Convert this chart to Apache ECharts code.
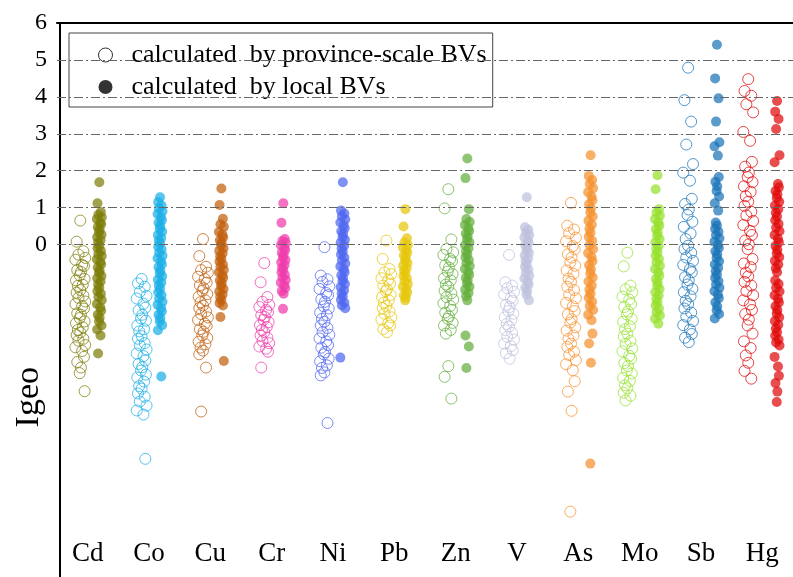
<!DOCTYPE html>
<html>
<head>
<meta charset="utf-8">
<script src="https://cdn.jsdelivr.net/npm/echarts@6/dist/echarts.min.js"></script>
<style>
    html, body { margin: 0; padding: 0; background: #fff; }
    #chartIgeo { width: 793px; height: 577px; }
</style>
</head>
<body>
<div id="chartIgeo"></div>
<script>
    // element names (x categories)
    const elements = ['Cd', 'Co', 'Cu', 'Cr', 'Ni', 'Pb', 'Zn', 'V', 'As', 'Mo', 'Sb', 'Hg'];
    const yTicks = [0, 1, 2, 3, 4, 5, 6];
    const gridLevels = [0, 1, 2, 3, 4, 5];

    // Igeo, calculated by province-scale BVs (open circles)
    const cdProvince = [0.65, 0.08, -0.18, -0.27, -0.36, -0.41, -0.55, -0.58, -0.69, -0.74, -0.83, -0.93, -0.97, -1.09, -1.12, -1.23, -1.3, -1.38, -1.44, -1.54, -1.61, -1.67, -1.73, -1.86, -1.9, -1.99, -2.08, -2.13, -2.24, -2.31, -2.38, -2.45, -2.55, -2.6, -2.72, -2.78, -2.88, -3.04, -3.18, -3.33, -3.48, -3.97];
    const coProvince = [-0.93, -1.05, -1.14, -1.28, -1.39, -1.46, -1.6, -1.71, -1.78, -1.9, -2.0, -2.06, -2.19, -2.29, -2.35, -2.48, -2.55, -2.67, -2.73, -2.84, -2.95, -3.02, -3.14, -3.23, -3.32, -3.41, -3.52, -3.6, -3.71, -3.83, -3.9, -4.03, -4.12, -4.25, -4.36, -4.49, -4.6, -5.8];
    const cuProvince = [0.15, -0.31, -0.6, -0.69, -0.76, -0.87, -0.93, -1.03, -1.1, -1.18, -1.25, -1.34, -1.41, -1.51, -1.56, -1.65, -1.72, -1.81, -1.88, -1.97, -2.04, -2.14, -2.2, -2.29, -2.36, -2.46, -2.53, -2.63, -2.7, -2.79, -2.87, -2.97, -3.33, -4.52];
    const crProvince = [-0.5, -1.02, -1.42, -1.55, -1.63, -1.69, -1.77, -1.83, -1.91, -1.96, -2.04, -2.1, -2.18, -2.23, -2.31, -2.37, -2.46, -2.52, -2.61, -2.67, -2.76, -2.82, -2.9, -3.33];
    const niProvince = [-0.07, -0.84, -0.94, -1.01, -1.13, -1.2, -1.31, -1.37, -1.48, -1.55, -1.67, -1.73, -1.84, -1.91, -2.01, -2.09, -2.19, -2.26, -2.37, -2.44, -2.54, -2.62, -2.72, -2.79, -2.91, -2.97, -3.09, -3.16, -3.27, -3.34, -3.46, -3.54, -4.83];
    const pbProvince = [0.11, -0.39, -0.66, -0.75, -0.8, -0.91, -0.96, -1.06, -1.11, -1.21, -1.26, -1.36, -1.42, -1.51, -1.57, -1.66, -1.72, -1.81, -1.87, -1.97, -2.03, -2.13, -2.19, -2.29, -2.37];
    const znProvince = [1.5, 0.98, 0.14, -0.12, -0.21, -0.28, -0.39, -0.45, -0.56, -0.62, -0.73, -0.8, -0.91, -0.97, -1.08, -1.14, -1.25, -1.32, -1.42, -1.49, -1.59, -1.66, -1.77, -1.84, -1.94, -2.01, -2.12, -2.19, -2.31, -2.41, -3.29, -3.58, -4.17];
    const vProvince = [-0.28, -1.02, -1.11, -1.18, -1.28, -1.35, -1.45, -1.52, -1.63, -1.69, -1.8, -1.87, -1.97, -2.04, -2.15, -2.22, -2.32, -2.39, -2.5, -2.57, -2.68, -2.75, -2.86, -2.94, -3.09];
    const asProvince = [1.13, 0.51, 0.41, 0.31, 0.19, 0.09, -0.04, -0.13, -0.26, -0.35, -0.48, -0.57, -0.7, -0.79, -0.92, -1.01, -1.14, -1.23, -1.36, -1.45, -1.58, -1.67, -1.8, -1.89, -2.02, -2.11, -2.24, -2.33, -2.46, -2.55, -2.68, -2.77, -2.9, -2.99, -3.13, -3.24, -3.4, -3.7, -3.98, -4.5, -7.23];
    const moProvince = [-0.22, -0.59, -1.11, -1.21, -1.29, -1.41, -1.49, -1.61, -1.69, -1.81, -1.89, -2.01, -2.09, -2.21, -2.29, -2.41, -2.49, -2.61, -2.69, -2.81, -2.89, -3.01, -3.09, -3.21, -3.29, -3.41, -3.49, -3.61, -3.69, -3.81, -3.89, -4.01, -4.09, -4.22];
    const sbProvince = [4.79, 3.91, 3.33, 2.71, 2.18, 1.95, 1.73, 1.24, 1.1, 0.95, 0.8, 0.62, 0.48, 0.3, 0.15, -0.03, -0.12, -0.22, -0.35, -0.44, -0.55, -0.66, -0.75, -0.88, -0.97, -1.08, -1.2, -1.29, -1.4, -1.52, -1.61, -1.73, -1.84, -1.95, -2.07, -2.18, -2.3, -2.42, -2.52, -2.64];
    const hgProvince = [4.48, 4.16, 4.03, 3.8, 3.58, 3.05, 2.81, 2.24, 2.11, 1.95, 1.83, 1.69, 1.58, 1.43, 1.31, 1.16, 1.05, 0.89, 0.79, 0.64, 0.53, 0.37, 0.26, 0.11, 0.01, -0.12, -0.39, -0.51, -0.61, -0.76, -0.86, -1.01, -1.11, -1.26, -1.37, -1.51, -1.62, -1.77, -1.88, -2.03, -2.19, -2.41, -2.62, -2.8, -3.0, -3.2, -3.42, -3.63];

    // Igeo, calculated by local BVs (filled circles)
    const cdLocal = [1.69, 1.12, 0.88, 0.81, 0.74, 0.69, 0.6, 0.55, 0.47, 0.41, 0.33, 0.27, 0.2, 0.12, 0.06, -0.03, -0.1, -0.17, -0.26, -0.31, -0.4, -0.47, -0.53, -0.62, -0.7, -0.76, -0.85, -0.91, -1.0, -1.08, -1.17, -1.26, -1.33, -1.42, -1.5, -1.61, -1.7, -1.79, -1.9, -1.98, -2.08, -2.19, -2.3, -2.46, -2.95];
    const coLocal = [1.28, 1.15, 1.06, 0.98, 0.9, 0.83, 0.74, 0.66, 0.59, 0.5, 0.42, 0.35, 0.26, 0.18, 0.11, 0.03, -0.06, -0.13, -0.22, -0.3, -0.37, -0.46, -0.54, -0.61, -0.7, -0.78, -0.86, -0.95, -1.03, -1.11, -1.2, -1.29, -1.37, -1.46, -1.55, -1.63, -1.72, -1.81, -1.9, -1.99, -2.08, -2.18, -2.32, -3.57];
    const cuLocal = [1.52, 1.07, 0.7, 0.55, 0.48, 0.34, 0.27, 0.2, 0.12, 0.05, -0.02, -0.1, -0.17, -0.24, -0.32, -0.39, -0.46, -0.54, -0.6, -0.68, -0.75, -0.83, -0.9, -0.97, -1.05, -1.12, -1.2, -1.27, -1.35, -1.42, -1.5, -1.58, -1.65, -1.96, -3.15];
    const crLocal = [1.12, 0.59, 0.15, 0.1, 0.04, -0.02, -0.09, -0.15, -0.22, -0.28, -0.35, -0.42, -0.48, -0.55, -0.62, -0.68, -0.75, -0.82, -0.89, -0.96, -1.03, -1.1, -1.18, -1.26, -1.33, -1.74];
    const niLocal = [1.69, 0.92, 0.84, 0.76, 0.68, 0.6, 0.52, 0.44, 0.36, 0.29, 0.2, 0.13, 0.05, -0.03, -0.11, -0.19, -0.27, -0.35, -0.43, -0.51, -0.59, -0.67, -0.75, -0.83, -0.91, -0.99, -1.07, -1.15, -1.24, -1.32, -1.4, -1.49, -1.57, -1.65, -1.72, -3.06];
    const pbLocal = [0.96, 0.49, 0.17, 0.06, -0.01, -0.08, -0.15, -0.22, -0.29, -0.36, -0.43, -0.5, -0.57, -0.64, -0.71, -0.78, -0.85, -0.92, -0.99, -1.07, -1.14, -1.22, -1.3, -1.37, -1.44, -1.51];
    const znLocal = [2.33, 1.8, 0.96, 0.69, 0.61, 0.53, 0.45, 0.37, 0.3, 0.22, 0.14, 0.06, -0.02, -0.1, -0.18, -0.26, -0.34, -0.42, -0.5, -0.58, -0.66, -0.74, -0.82, -0.9, -0.98, -1.06, -1.14, -1.22, -1.31, -1.4, -1.51, -2.46, -2.76, -3.34];
    const vLocal = [1.28, 0.47, 0.4, 0.33, 0.26, 0.19, 0.12, 0.05, -0.02, -0.09, -0.16, -0.23, -0.3, -0.38, -0.45, -0.53, -0.6, -0.68, -0.76, -0.84, -0.92, -1.0, -1.08, -1.17, -1.26, -1.36, -1.51];
    const asLocal = [2.42, 1.86, 1.75, 1.64, 1.53, 1.42, 1.31, 1.2, 1.09, 0.98, 0.87, 0.76, 0.65, 0.54, 0.43, 0.32, 0.21, 0.1, -0.01, -0.12, -0.23, -0.34, -0.45, -0.56, -0.67, -0.78, -0.89, -1.0, -1.11, -1.22, -1.33, -1.44, -1.55, -1.66, -1.77, -1.9, -2.05, -2.41, -2.68, -3.2, -5.93];
    const moLocal = [1.88, 1.5, 0.96, 0.87, 0.78, 0.69, 0.6, 0.51, 0.42, 0.33, 0.24, 0.15, 0.06, -0.03, -0.12, -0.21, -0.3, -0.39, -0.48, -0.57, -0.66, -0.75, -0.84, -0.93, -1.02, -1.11, -1.2, -1.29, -1.38, -1.47, -1.56, -1.65, -1.74, -1.83, -1.92, -2.01, -2.14];
    const sbLocal = [5.41, 4.5, 3.96, 3.33, 2.77, 2.66, 2.41, 1.83, 1.7, 1.58, 1.45, 1.3, 1.12, 0.92, 0.6, 0.52, 0.43, 0.35, 0.26, 0.17, 0.08, 0.0, -0.09, -0.18, -0.27, -0.36, -0.45, -0.54, -0.63, -0.72, -0.81, -0.9, -0.99, -1.08, -1.17, -1.26, -1.35, -1.45, -1.56, -1.67, -1.78, -1.88, -2.0];
    const hgLocal = [3.89, 3.6, 3.4, 3.13, 2.42, 2.23, 1.64, 1.55, 1.45, 1.36, 1.26, 1.16, 1.06, 0.96, 0.86, 0.76, 0.66, 0.56, 0.46, 0.36, 0.26, 0.16, 0.06, -0.04, -0.14, -0.24, -0.34, -0.44, -0.54, -0.64, -0.75, -0.97, -1.07, -1.17, -1.27, -1.37, -1.47, -1.57, -1.67, -1.77, -1.87, -1.97, -2.07, -2.17, -2.27, -2.37, -2.47, -2.57, -2.65, -2.73, -3.04, -3.3, -3.55, -3.75, -3.98, -4.26];

    const provinceData = [cdProvince, coProvince, cuProvince, crProvince, niProvince, pbProvince, znProvince, vProvince, asProvince, moProvince, sbProvince, hgProvince];
    const localData = [cdLocal, coLocal, cuLocal, crLocal, niLocal, pbLocal, znLocal, vLocal, asLocal, moLocal, sbLocal, hgLocal];

    // styles
    const colors = ['#7d7d0a', '#1aaee6', '#c05f0c', '#f03cac', '#4f66f0', '#e6c60a', '#64ae3c', '#bcc0dc', '#f5902c', '#96e02c', '#1a74b8', '#e00a0a'];
    const openOffset = [-0.12, -0.12, -0.12, -0.12, -0.14, -0.13, -0.12, -0.13, -0.12, -0.2, -0.21, -0.23];
    const fillOffset = [0.19, 0.18, 0.18, 0.19, 0.16, 0.18, 0.19, 0.16, 0.2, 0.29, 0.26, 0.24];
    const jitter = [0, -0.06, 0.05, -0.03, 0.08, -0.08, 0.03, 0.06, -0.05, 0.01, -0.01, 0.07, -0.07, 0.04, -0.04];
    const LEG1 = 'calculated  by province-scale BVs';
    const LEG2 = 'calculated  by local BVs';
    const serif = '"Liberation Serif", "DejaVu Serif", serif';

    const series = [];
    elements.forEach((el, i) => {
        series.push({
            name: el + ' province',
            type: 'scatter',
            symbol: 'circle',
            symbolSize: 11,
            itemStyle: { color: 'rgba(255,255,255,0)', borderColor: colors[i], borderWidth: 1, opacity: 0.75 },
            data: provinceData[i].map((v, k) => [i + 0.5 + openOffset[i] + jitter[k % jitter.length], v])
        });
        series.push({
            name: el + ' local',
            type: 'scatter',
            symbol: 'circle',
            symbolSize: 10,
            itemStyle: { color: colors[i], opacity: 0.72 },
            data: localData[i].map((v, k) => [i + 0.5 + fillOffset[i] + jitter[k % jitter.length] * 0.5, v])
        });
    });
    // legend-only series
    series.push({ name: LEG1, type: 'scatter', data: [], itemStyle: { color: '#fff', borderColor: '#000', borderWidth: 1 } });
    series.push({ name: LEG2, type: 'scatter', data: [], itemStyle: { color: '#000' } });
    // dash-dot reference lines
    series.push({
        type: 'line', data: [], silent: true,
        markLine: {
            symbol: 'none', silent: true, label: { show: false },
            lineStyle: { color: '#666', width: 1, type: [9, 3, 2, 3] },
            data: gridLevels.map(v => ({ yAxis: v }))
        }
    });

    const option = {
        backgroundColor: '#ffffff',
        animation: false,
        grid: { left: 57, right: -8, top: 23, bottom: -2 },
        legend: {
            orient: 'vertical',
            left: 69, top: 33,
            padding: [9, 6, 7, 29],
            itemGap: 6,
            itemWidth: 14, itemHeight: 14,
            backgroundColor: '#fff',
            borderColor: '#444', borderWidth: 1,
            textStyle: { fontFamily: serif, fontSize: 26, color: '#000', padding: [0, 0, 0, 14] },
            data: [
                { name: LEG1, icon: 'circle', itemStyle: { color: '#fff', borderColor: '#000', borderWidth: 1 } },
                { name: LEG2, icon: 'circle', itemStyle: { color: '#000' } }
            ]
        },
        xAxis: [
            {
                type: 'value', min: 0, max: 12, position: 'top',
                axisLine: { show: true, onZero: false, lineStyle: { color: '#000', width: 2 } },
                axisTick: { show: false }, axisLabel: { show: false }, splitLine: { show: false }
            },
            {
                type: 'category', data: elements, position: 'bottom', boundaryGap: true,
                axisLine: { show: false }, axisTick: { show: false }, splitLine: { show: false },
                axisLabel: { inside: true, margin: 10, fontFamily: serif, fontSize: 27, color: '#000' }
            }
        ],
        yAxis: {
            type: 'value', min: -9, max: 6, interval: 1, offset: -3,
            axisLine: { show: true, onZero: false, lineStyle: { color: '#000', width: 2 } },
            axisTick: { show: false },
            splitLine: { show: false },
            axisLabel: {
                margin: 13, fontFamily: serif, fontSize: 24, color: '#000',
                formatter: v => (yTicks.indexOf(v) >= 0 ? String(v) : '')
            }
        },
        graphic: [{
            type: 'text', left: 12, top: 367, rotation: Math.PI / 2,
            style: { text: 'Igeo', font: '34px ' + serif, fill: '#000' }
        }],
        series: series
    };

    const myChart = echarts.init(document.getElementById('chartIgeo'));
    myChart.setOption(option);
</script>
</body>
</html>
